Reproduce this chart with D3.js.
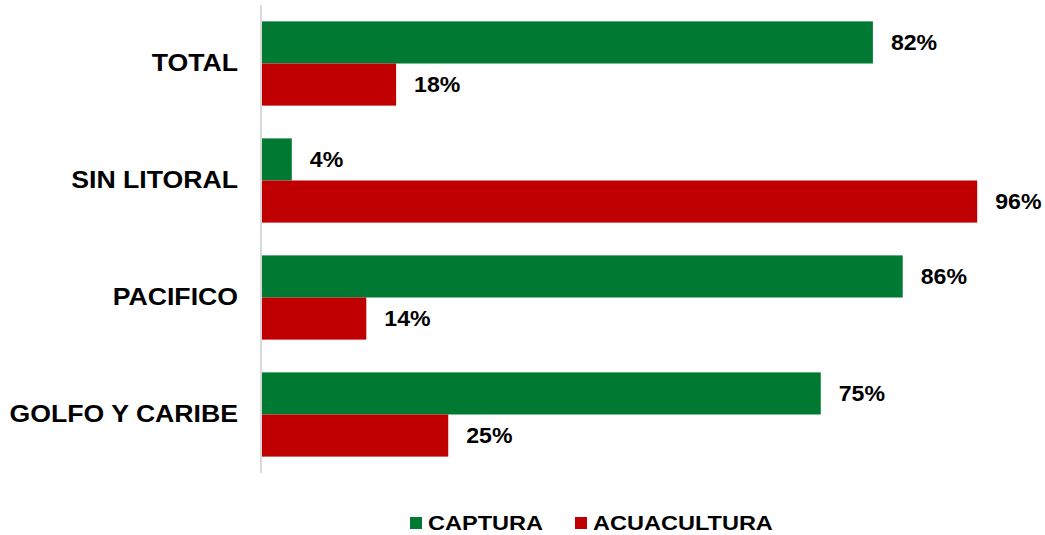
<!DOCTYPE html>
<html>
<head>
<meta charset="utf-8">
<script src="https://cdn.jsdelivr.net/npm/d3@7"></script>
<style>
  html, body { margin: 0; padding: 0; background: #fff; }
  svg { display: block; font-family: Arial, "Liberation Sans", sans-serif; font-weight: bold; }
</style>
</head>
<body>
<svg id="chart" width="1045" height="535"></svg>
<script>
// Share of production by origin (%), per coastal region
const categories = ["TOTAL", "SIN LITORAL", "PACIFICO", "GOLFO Y CARIBE"];
const seriesNames = ["CAPTURA", "ACUACULTURA"];
const captura = [82, 4, 86, 75];
const acuacultura = [18, 96, 14, 25];
const colors = ["#007A33", "#C00000"];

const svg = d3.select("#chart");
const x0 = 262, yTop = 5, yBottom = 473;

// Widen glyphs horizontally by factor k (keeps anchor position)
function stretch(sel, k) {
  sel.each(function () {
    const w = this.getComputedTextLength();
    d3.select(this).attr("textLength", w * k).attr("lengthAdjust", "spacingAndGlyphs");
  });
}

const x = d3.scaleLinear().domain([0, 100]).range([x0, x0 + 745]);
const y = d3.scaleBand().domain(categories).range([yTop, yBottom]).paddingInner(0.28).paddingOuter(0.14);
const ySub = d3.scaleBand().domain(seriesNames).range([0, y.bandwidth()]);

const rows = categories.map((c, i) => ({ cat: c, vals: [captura[i], acuacultura[i]] }));

const g = svg.append("g");
const grp = g.selectAll("g.cat").data(rows).join("g")
  .attr("class", "cat")
  .attr("transform", d => `translate(0,${y(d.cat)})`);

grp.selectAll("rect").data(d => d.vals.map((v, k) => ({ v, k })))
  .join("rect")
  .attr("x", x(0))
  .attr("y", d => ySub(seriesNames[d.k]))
  .attr("width", d => x(d.v) - x(0))
  .attr("height", ySub.bandwidth())
  .attr("fill", d => colors[d.k]);

grp.selectAll("text.val").data(d => d.vals.map((v, k) => ({ v, k })))
  .join("text")
  .attr("class", "val")
  .attr("x", d => x(d.v) + 18)
  .attr("y", d => ySub(seriesNames[d.k]) + ySub.bandwidth() / 2)
  .attr("dy", "0.35em")
  .attr("font-size", 22)
  .attr("fill", "#000")
  .text(d => d.v + "%")
  .call(stretch, 1.05);

// Category axis on the left
const axis = g.append("g").attr("transform", `translate(${x0 - 1},0)`)
  .call(d3.axisLeft(y).tickSize(0).tickPadding(23));
axis.select(".domain").attr("stroke", "#d9d9d9").attr("stroke-width", 2)
  .attr("d", `M0,${yTop}V${yBottom}`);
axis.selectAll("text")
  .attr("font-family", "Arial, 'Liberation Sans', sans-serif")
  .attr("font-weight", "bold")
  .attr("font-size", 24)
  .attr("fill", "#000")
  .call(stretch, 1.11);

// Legend
const legendX = [410, 575];
const legend = svg.append("g");
seriesNames.forEach((name, k) => {
  legend.append("rect")
    .attr("x", legendX[k]).attr("y", 517)
    .attr("width", 12).attr("height", 12)
    .attr("fill", colors[k]);
  legend.append("text")
    .attr("x", legendX[k] + 18).attr("y", 523)
    .attr("dy", "0.35em")
    .attr("font-size", 21)
    .attr("fill", "#000")
    .text(name)
    .call(stretch, 1.12);
});
</script>
</body>
</html>
